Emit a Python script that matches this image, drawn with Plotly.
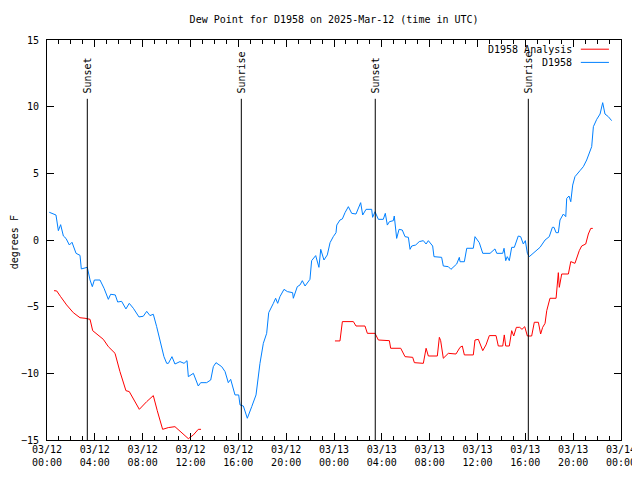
import plotly.graph_objects as go

# ---- data (hours since 2025-03-12 00:00 UTC) ----
obs_hours = [0.19, 0.75, 0.95, 1.14, 1.37, 1.59, 1.87, 2.09, 2.43, 2.76,
             2.87, 3.37, 3.6, 3.79, 3.96, 4.43, 4.77, 5.13, 5.32, 5.71,
             5.91, 6.24, 6.6, 6.88, 7.22, 7.69, 8.05, 8.34, 8.61, 8.89,
             9.17, 9.51, 9.78, 10.01, 10.15, 10.45, 10.7, 11.12, 11.46, 11.71,
             11.82, 12.24, 12.65, 12.85, 13.35, 13.69, 13.91, 14.13, 14.61, 14.89,
             15.16, 15.36, 15.72, 16.03, 16.14, 16.42, 16.75, 17.12, 17.48, 17.81,
             18.09, 18.37, 18.54, 18.93, 19.12, 19.29, 19.48, 19.82, 20.1, 20.54,
             20.6, 20.93, 21.16, 21.35, 21.58, 21.99, 22.13, 22.47, 22.74, 22.89,
             23.16, 23.44, 23.67, 23.94, 24.17, 24.23, 24.5, 24.7, 24.92, 25.2,
             25.48, 25.84, 26.04, 26.23, 26.4, 26.68, 27.15, 27.23, 27.43, 27.71,
             28.12, 28.29, 28.46, 28.63, 28.96, 29.04, 29.24, 29.44, 29.71, 29.94,
             30.22, 30.36, 30.5, 30.83, 31.13, 31.47, 31.7, 31.89, 32.25, 32.36,
             33.0, 33.14, 33.56, 33.78, 34.26, 34.48, 34.54, 34.9, 35.1, 35.65,
             35.79, 36.15, 36.44, 37.05, 37.46, 37.61, 38.11, 38.22, 38.36, 38.49,
             38.66, 38.86, 39.08, 39.41, 39.61, 39.83, 40.0, 40.17, 40.33, 40.67,
             40.95, 41.23, 41.65, 42.0, 42.26, 42.4, 42.57, 42.76, 42.9, 43.18,
             43.38, 43.46, 43.65, 43.8, 43.96, 44.15, 44.57, 44.85, 45.13, 45.41,
             45.55, 45.69, 45.97, 46.25, 46.47, 46.66, 46.94, 47.22]
obs_dewpoint = [2.08, 1.875, 0.70, 1.15, 0.3, 0.12, -0.375, -0.17, -1.0, -1.15,
                -2.17, -2.05, -3.0, -3.5, -3.0, -3.0, -3.62, -4.45, -4.07, -4.12,
                -4.65, -4.6, -5.17, -4.75, -5.12, -5.77, -5.72, -5.35, -5.67, -5.57,
                -6.5, -7.75, -8.75, -9.25, -9.25, -8.75, -9.3, -9.12, -9.25, -9.05,
                -10.25, -10.0, -10.95, -10.7, -10.7, -10.5, -9.5, -9.2, -9.5, -9.87,
                -10.7, -10.45, -11.62, -11.62, -12.37, -12.45, -13.37, -12.5, -11.62, -9.25,
                -7.75, -7.0, -5.45, -4.75, -4.37, -4.75, -4.25, -3.7, -3.87, -3.95,
                -4.37, -3.5, -3.37, -3.05, -3.45, -2.95, -1.55, -1.17, -2.05, -0.7,
                -1.5, -1.12, -0.2, 0.25, 0.55, 1.12, 1.5, 1.58, 2.05, 2.5,
                2.0, 1.95, 2.37, 2.8, 1.875, 2.3, 2.3, 1.7, 2.12, 1.55,
                1.55, 2.0, 1.12, 1.37, 1.45, 1.8, 0.12, 0.8, 0.75, 0.25,
                0.2, -0.7, -0.45, -0.375, -0.12, -0.05, -0.3, -0.05, -0.45, -1.25,
                -1.3, -1.95, -2.0, -2.2, -1.8, -1.3, -1.63, -1.63, -0.62, -0.62,
                0.25, -0.2, -1.0, -1.0, -0.67, -1.0, -1.0, -0.62, -1.55, -1.25,
                -1.55, -0.55, -0.55, 0.3, 0.25, -0.3, -0.05, -1.0, -1.25, -1.0,
                -0.75, -0.55, 0.0, 0.25, 0.95, 0.95, 0.55, 0.55, 1.5, 1.95,
                1.75, 3.12, 3.3, 2.87, 4.12, 4.75, 5.2, 5.5, 6.0, 6.62,
                7.0, 8.5, 9.05, 9.45, 10.3, 9.45, 9.25, 8.95]

ana_hours = [0.59, 0.81, 1.14, 1.64, 2.2, 2.76, 3.18, 3.6, 3.82, 4.15,
             4.71, 5.13, 5.69, 6.1, 6.6, 6.88, 7.72, 8.34, 8.89, 9.22,
             9.67, 10.14, 10.7, 11.82, 12.24, 12.65, 12.88,
             18.0,
             24.08, 24.5, 24.7, 25.62, 25.84, 26.59, 26.79, 27.43, 27.71, 28.63,
             28.74, 29.58, 29.94, 30.58, 30.72, 31.47, 31.7, 31.89, 32.64, 32.81,
             32.92, 33.14, 33.56, 34.2, 34.54, 34.73, 34.9, 35.65, 35.79, 36.07,
             36.44, 36.71, 36.99, 37.55, 37.74, 38.11, 38.24, 38.36, 38.66, 38.86,
             39.03, 39.25, 39.53, 39.72, 39.95, 40.17, 40.53, 40.75, 41.09, 41.28,
             41.45, 41.65, 41.79, 42.06, 42.57, 42.76, 42.84, 43.04, 43.6, 43.8,
             44.15, 44.51, 44.71, 45.05, 45.27, 45.47, 45.64]
ana_dewpoint = [-3.8, -3.82, -4.25, -4.87, -5.45, -5.83, -5.87, -5.95, -6.8, -7.05,
                -7.45, -8.0, -8.5, -9.87, -11.3, -11.37, -12.7, -12.12, -11.67, -12.8,
                -14.2, -14.07, -14.0, -14.9, -14.62, -14.2, -14.2,
                None,
                -7.57, -7.57, -6.12, -6.12, -6.45, -6.45, -7.0, -7.0, -7.5, -7.55,
                -8.12, -8.12, -8.75, -8.8, -9.2, -9.25, -8.12, -8.7, -8.7, -7.3,
                -7.55, -8.87, -8.5, -8.55, -8.05, -7.95, -8.62, -8.62, -7.5, -7.45,
                -8.3, -7.87, -7.17, -7.17, -7.95, -7.95, -7.12, -7.95, -7.95, -6.8,
                -7.2, -6.55, -6.55, -6.7, -6.5, -7.2, -7.2, -6.17, -6.17, -7.05,
                -6.55, -6.25, -5.3, -4.37, -4.37, -2.45, -3.55, -2.55, -2.55, -1.62,
                -1.75, -0.8, -0.45, -0.3, 0.45, 0.87, 0.87]

event_hours = [3.37, 16.25, 27.45, 40.25]
event_labels = ["Sunset", "Sunrise", "Sunset", "Sunrise"]

tick_hours = [0, 4, 8, 12, 16, 20, 24, 28, 32, 36, 40, 44, 48]
tick_labels = ["03/12<br>00:00", "03/12<br>04:00", "03/12<br>08:00", "03/12<br>12:00",
               "03/12<br>16:00", "03/12<br>20:00", "03/13<br>00:00", "03/13<br>04:00",
               "03/13<br>08:00", "03/13<br>12:00", "03/13<br>16:00", "03/13<br>20:00",
               "03/14<br>00:00"]
y_ticks = [-15, -10, -5, 0, 5, 10, 15]

FONT = "DejaVu Sans Mono"
RED = "#ff0000"
BLUE = "#0080ff"

fig = go.Figure()
fig.add_trace(go.Scatter(x=ana_hours, y=ana_dewpoint, mode="lines",
                         line=dict(color=RED, width=1), connectgaps=False,
                         name="D1958 Analysis", showlegend=False))
fig.add_trace(go.Scatter(x=obs_hours, y=obs_dewpoint, mode="lines",
                         line=dict(color=BLUE, width=1),
                         name="D1958", showlegend=False))

shapes = []
annotations = []
for h, lab in zip(event_hours, event_labels):
    shapes.append(dict(type="line", xref="x", yref="paper", x0=h, x1=h, y0=0, y1=0.853,
                       line=dict(color="black", width=1)))
    annotations.append(dict(x=h, y=0.862, xref="x", yref="paper", text=lab,
                            textangle=-90, showarrow=False, xanchor="center",
                            yanchor="bottom", font=dict(family=FONT, size=10, color="black")))

# legend (gnuplot style: text then sample)
legend_items = [("D1958 Analysis", RED, 0.977), ("D1958", BLUE, 0.944)]
for txt, col, yy in legend_items:
    annotations.append(dict(x=0.918, y=yy, xref="paper", yref="paper", text=txt,
                            showarrow=False, xanchor="right", yanchor="middle",
                            font=dict(family=FONT, size=10, color="black")))
    shapes.append(dict(type="line", xref="paper", yref="paper", x0=0.930, x1=0.979,
                       y0=yy, y1=yy, line=dict(color=col, width=1)))

annotations.append(dict(x=-0.057, y=0.495, xref="paper", yref="paper", text="degrees F",
                        textangle=-90, showarrow=False, xanchor="center", yanchor="middle",
                        font=dict(family=FONT, size=10, color="black")))

# page body has an 8px margin, so the figure is sized to fit the 640x480 window
fig.update_layout(
    template="none",
    width=632, height=472,
    margin=dict(l=39, r=19, t=32, b=40, autoexpand=False),
    paper_bgcolor="white", plot_bgcolor="white",
    font=dict(family=FONT, size=10, color="black"),
    title=dict(text="Dew Point for D1958 on 2025-Mar-12 (time in UTC)",
               x=0.516, xanchor="center", y=0.975, yanchor="middle",
               xref="container", yref="container", automargin=False,
               font=dict(family=FONT, size=10, color="black")),
    shapes=shapes, annotations=annotations, showlegend=False,
)
fig.update_xaxes(range=[0, 48], tickmode="array", tickvals=tick_hours, ticktext=tick_labels,
                 ticks="inside", ticklen=7, tickcolor="black", showline=True,
                 linecolor="black", linewidth=1, mirror="ticks", showgrid=False,
                 zeroline=False, automargin=False, tickfont=dict(family=FONT, size=10),
                 minor=dict(dtick=1, tick0=0, ticks="inside", ticklen=4, tickcolor="black",
                            showgrid=False))
fig.update_yaxes(range=[-15, 15], tickmode="array", tickvals=y_ticks,
                 ticks="inside", ticklen=7, tickcolor="black", showline=True,
                 linecolor="black", linewidth=1, mirror="ticks", showgrid=False,
                 zeroline=False, automargin=False, ticklabelstandoff=5,
                 tickfont=dict(family=FONT, size=10))

fig.write_html("out.html")
